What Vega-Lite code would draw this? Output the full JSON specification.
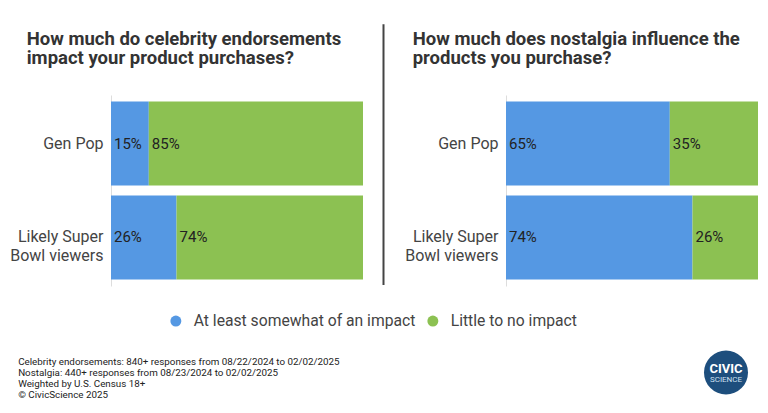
{
  "$schema": "https://vega.github.io/schema/vega-lite/v6.json",
  "padding": {"left": 9, "top": 23, "right": 10, "bottom": 0},
  "background": "white",
  "config": {
    "view": {"stroke": null},
    "font": "Roboto",
    "title": {"font": "Roboto", "fontSize": 18.5, "fontWeight": "bold", "color": "#333333", "anchor": "start", "frame": "bounds", "lineHeight": 19, "offset": 28},
    "axis": {"labelFont": "Roboto", "labelFontSize": 16, "labelColor": "#444444", "domainColor": "#dddddd", "ticks": false, "grid": false, "labelPadding": 8, "title": null, "labelLineHeight": 19},
    "legend": {"orient": "none", "direction": "horizontal", "symbolType": "circle", "symbolSize": 121, "labelFontSize": 15.7, "labelFont": "Roboto", "labelColor": "#444444", "columnPadding": 9, "labelOffset": 10, "symbolStrokeWidth": 0, "labelLimit": 0}
  },
  "datasets": {
    "bars": [
      {"q": "celeb", "group": "Gen Pop", "response": "At least somewhat of an impact", "order": 1, "pct": 0.15},
      {"q": "celeb", "group": "Gen Pop", "response": "Little to no impact", "order": 2, "pct": 0.85},
      {"q": "celeb", "group": "Likely Super Bowl viewers", "response": "At least somewhat of an impact", "order": 1, "pct": 0.26},
      {"q": "celeb", "group": "Likely Super Bowl viewers", "response": "Little to no impact", "order": 2, "pct": 0.74},
      {"q": "nost", "group": "Gen Pop", "response": "At least somewhat of an impact", "order": 1, "pct": 0.65},
      {"q": "nost", "group": "Gen Pop", "response": "Little to no impact", "order": 2, "pct": 0.35},
      {"q": "nost", "group": "Likely Super Bowl viewers", "response": "At least somewhat of an impact", "order": 1, "pct": 0.74},
      {"q": "nost", "group": "Likely Super Bowl viewers", "response": "Little to no impact", "order": 2, "pct": 0.26}
    ],
    "notes": [
      {"line": 1, "text": "Celebrity endorsements: 840+ responses from 08/22/2024 to 02/02/2025"},
      {"line": 2, "text": "Nostalgia: 440+ responses from 08/23/2024 to 02/02/2025"},
      {"line": 3, "text": "Weighted by U.S. Census 18+"},
      {"line": 4, "text": "© CivicScience 2025"}
    ]
  },
  "vconcat": [
    {
      "hconcat": [
        {
          "title": {"text": ["How much do celebrity endorsements", "impact your product purchases?"], "dx": 17},
          "width": 252,
          "height": 191,
          "data": {"name": "bars"},
          "transform": [
            {"filter": "datum.q == 'celeb'"},
            {"stack": "pct", "groupby": ["group"], "sort": [{"field": "order"}], "as": ["x0", "x1"]}
          ],
          "encoding": {
            "y": {"field": "group", "type": "nominal", "sort": ["Gen Pop", "Likely Super Bowl viewers"], "scale": {"paddingInner": 0.106, "paddingOuter": 0.07}, "axis": {"labelExpr": "datum.value == 'Likely Super Bowl viewers' ? ['Likely Super', 'Bowl viewers'] : datum.value"}}
          },
          "layer": [
            {
              "mark": {"type": "bar"},
              "encoding": {
                "x": {"field": "x0", "type": "quantitative", "scale": {"domain": [0, 1]}, "axis": null},
                "x2": {"field": "x1"},
                "color": {"field": "response", "type": "nominal", "scale": {"domain": ["At least somewhat of an impact", "Little to no impact"], "range": ["#5598E3", "#8CC152"]}, "legend": {"title": null, "legendX": 57, "legendY": 218}}
              }
            },
            {
              "mark": {"type": "text", "align": "left", "baseline": "middle", "dx": 3, "fontSize": 15, "color": "#222222"},
              "encoding": {
                "x": {"field": "x0", "type": "quantitative"},
                "text": {"field": "pct", "type": "quantitative", "format": ".0%"}
              }
            }
          ]
        },
        {
          "width": 1,
          "height": 191,
          "data": {"values": [{}]},
          "mark": {"type": "rule", "color": "#444444", "strokeWidth": 2},
          "encoding": {
            "x": {"datum": 0.5, "type": "quantitative", "scale": {"domain": [0, 1]}, "axis": null},
            "y": {"datum": 1.37, "type": "quantitative", "scale": {"domain": [0, 1]}, "axis": null},
            "y2": {"datum": 0.005}
          }
        },
        {
          "title": {"text": ["How much does nostalgia influence the", "products you purchase?"], "dx": 8},
          "width": 252,
          "height": 191,
          "data": {"name": "bars"},
          "transform": [
            {"filter": "datum.q == 'nost'"},
            {"stack": "pct", "groupby": ["group"], "sort": [{"field": "order"}], "as": ["x0", "x1"]}
          ],
          "encoding": {
            "y": {"field": "group", "type": "nominal", "sort": ["Gen Pop", "Likely Super Bowl viewers"], "scale": {"paddingInner": 0.106, "paddingOuter": 0.07}, "axis": {"labelExpr": "datum.value == 'Likely Super Bowl viewers' ? ['Likely Super', 'Bowl viewers'] : datum.value"}}
          },
          "layer": [
            {
              "mark": {"type": "bar"},
              "encoding": {
                "x": {"field": "x0", "type": "quantitative", "scale": {"domain": [0, 1]}, "axis": null},
                "x2": {"field": "x1"},
                "color": {"field": "response", "type": "nominal"}
              }
            },
            {
              "mark": {"type": "text", "align": "left", "baseline": "middle", "dx": 3, "fontSize": 15, "color": "#222222"},
              "encoding": {
                "x": {"field": "x0", "type": "quantitative"},
                "text": {"field": "pct", "type": "quantitative", "format": ".0%"}
              }
            }
          ]
        }
      ],
      "spacing": 19,
      "resolve": {"scale": {"x": "independent", "y": "independent"}}
    },
    {
      "width": 615,
      "height": 44,
      "data": {"name": "notes"},
      "layer": [
        {
          "mark": {"type": "text", "align": "left", "baseline": "middle", "fontSize": 9.8, "color": "#222222"},
          "encoding": {
            "x": {"datum": -0.151, "type": "quantitative", "scale": {"domain": [0, 1]}, "axis": null},
            "y": {"field": "line", "type": "ordinal", "scale": {"type": "point", "padding": 0.5}, "axis": null},
            "text": {"field": "text"}
          }
        },
        {
          "data": {"values": [{}]},
          "mark": {"type": "point", "shape": "triangle-down", "filled": true, "size": 110, "color": "#1d4e7d", "opacity": 1, "angle": 35, "dx": -15, "dy": 18},
          "encoding": {
            "x": {"datum": 1, "type": "quantitative"},
            "y": {"datum": 2, "type": "ordinal"}
          }
        },
        {
          "data": {"values": [{}]},
          "mark": {"type": "point", "shape": "circle", "filled": true, "size": 1936, "color": "#1d4e7d", "opacity": 1},
          "encoding": {
            "x": {"datum": 1, "type": "quantitative"},
            "y": {"datum": 2, "type": "ordinal"}
          }
        },
        {
          "data": {"values": [{}]},
          "mark": {"type": "text", "align": "center", "baseline": "middle", "fontSize": 13, "fontWeight": "bold", "color": "#ffffff", "dy": -4},
          "encoding": {
            "x": {"datum": 1, "type": "quantitative"},
            "y": {"datum": 2, "type": "ordinal"},
            "text": {"value": "CIVIC"}
          }
        },
        {
          "data": {"values": [{}]},
          "mark": {"type": "text", "align": "center", "baseline": "middle", "fontSize": 8, "color": "#cfe0f0", "dy": 7},
          "encoding": {
            "x": {"datum": 1, "type": "quantitative"},
            "y": {"datum": 2, "type": "ordinal"},
            "text": {"value": "SCIENCE"}
          }
        }
      ]
    }
  ],
  "spacing": 63,
  "resolve": {"scale": {"x": "independent", "y": "independent"}}
}
